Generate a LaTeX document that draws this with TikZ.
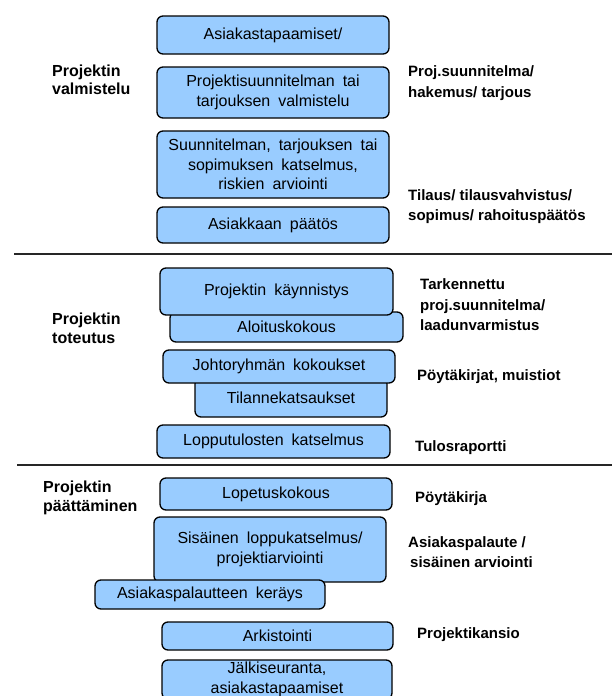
\documentclass[tikz,border=0pt]{standalone}
\usepackage{fontspec}
\setmainfont{Liberation Sans}
\newfontfamily\boxfont[WordSpace=1.8]{Liberation Sans}
\definecolor{boxblue}{RGB}{153,204,255}
\begin{document}
\begin{tikzpicture}[x=1pt,y=-1pt,
  box/.style={draw=black, line width=1.3pt, fill=boxblue, rounded corners=6pt, inner sep=0pt, align=center, font=\boxfont\fontsize{16}{19.5}\selectfont},
  phase/.style={anchor=west, inner sep=0pt, align=left, font=\bfseries\fontsize{16}{18.5}\selectfont},
  doc/.style={anchor=west, inner sep=0pt, align=left, font=\bfseries\fontsize{15}{20.5}\selectfont},
  sep/.style={line width=1.5pt, draw=black!85}]
\useasboundingbox (0,0) rectangle (612,696);
\clip (0,0) rectangle (612,696);
% separators
\coordinate (s1a) at (14,254); \coordinate (s1b) at (612,254);
\coordinate (s2a) at (17,465); \coordinate (s2b) at (612,465);
\draw[sep] (s1a) -- (s1b);
\draw[sep] (s2a) -- (s2b);
% phase 1
\node[box, minimum width=232pt, minimum height=38pt] (b1) at (273,35) {Asiakastapaamiset/};
\node[box, minimum width=232pt, minimum height=51pt] (b2) at (273,92.5) {Projektisuunnitelman tai\\tarjouksen valmistelu};
\node[box, minimum width=232pt, minimum height=67pt] (b3) at (273,164.5) {Suunnitelman, tarjouksen tai\\sopimuksen katselmus,\\riskien arviointi};
\node[box, minimum width=232pt, minimum height=36pt] (b4) at (273,225) {Asiakkaan päätös};
% phase 2
\node[box, minimum width=233pt, minimum height=30pt] (aloitus) at (286.5,327) {Aloituskokous};
\node[box, minimum width=233pt, minimum height=47pt] (kaynn) at (276.5,291.5) {Projektin käynnistys};
\node[box, minimum width=192pt, minimum height=39pt] (tilanne) at (291,397.5) {Tilannekatsaukset};
\node[box, minimum width=232pt, minimum height=33pt] (johto) at (279,366.5) {Johtoryhmän kokoukset};
\node[box, minimum width=233pt, minimum height=33pt] (loppu) at (273.5,441.5) {Lopputulosten katselmus};
% phase 3
\node[box, minimum width=232pt, minimum height=32pt] (lopetus) at (276,494) {Lopetuskokous};
\node[box, minimum width=232pt, minimum height=65pt] (sisainen) at (270,549.5) {Sisäinen loppukatselmus/\\projektiarviointi};
\node[box, minimum width=230pt, minimum height=29pt] (palaute) at (210,594.5) {Asiakaspalautteen keräys};
\node[box, minimum width=231pt, minimum height=28pt] (arkisto) at (277.5,636) {Arkistointi};
\node[box, minimum width=230pt, minimum height=39pt] (jalki) at (277,679.5) {Jälkiseuranta,\\asiakastapaamiset};
% phase labels
\node[phase] (p1) at (52,80) {Projektin\\valmistelu};
\node[phase] (p2) at (52,328.5) {Projektin\\toteutus};
\node[phase] (p3) at (43,498) {Projektin\\päättäminen};
% document labels
\node[doc] (d1) at (408,83) {Proj.suunnitelma/\\hakemus/ tarjous};
\node[doc] (d2) at (408,206.5) {Tilaus/ tilausvahvistus/\\sopimus/ rahoituspäätös};
\node[doc] (d3) at (420,305) {Tarkennettu\\proj.suunnitelma/\\laadunvarmistus};
\node[doc] (d4) at (417,377) {Pöytäkirjat, muistiot};
\node[doc] (d5) at (415,448) {Tulosraportti};
\node[doc] (d6) at (415,499) {Pöytäkirja};
\node[doc] (d7) at (408,552) {Asiakaspalaute /\\\hspace{2pt}sisäinen arviointi};
\node[doc] (d8) at (417,635) {Projektikansio};
\end{tikzpicture}
\end{document}
